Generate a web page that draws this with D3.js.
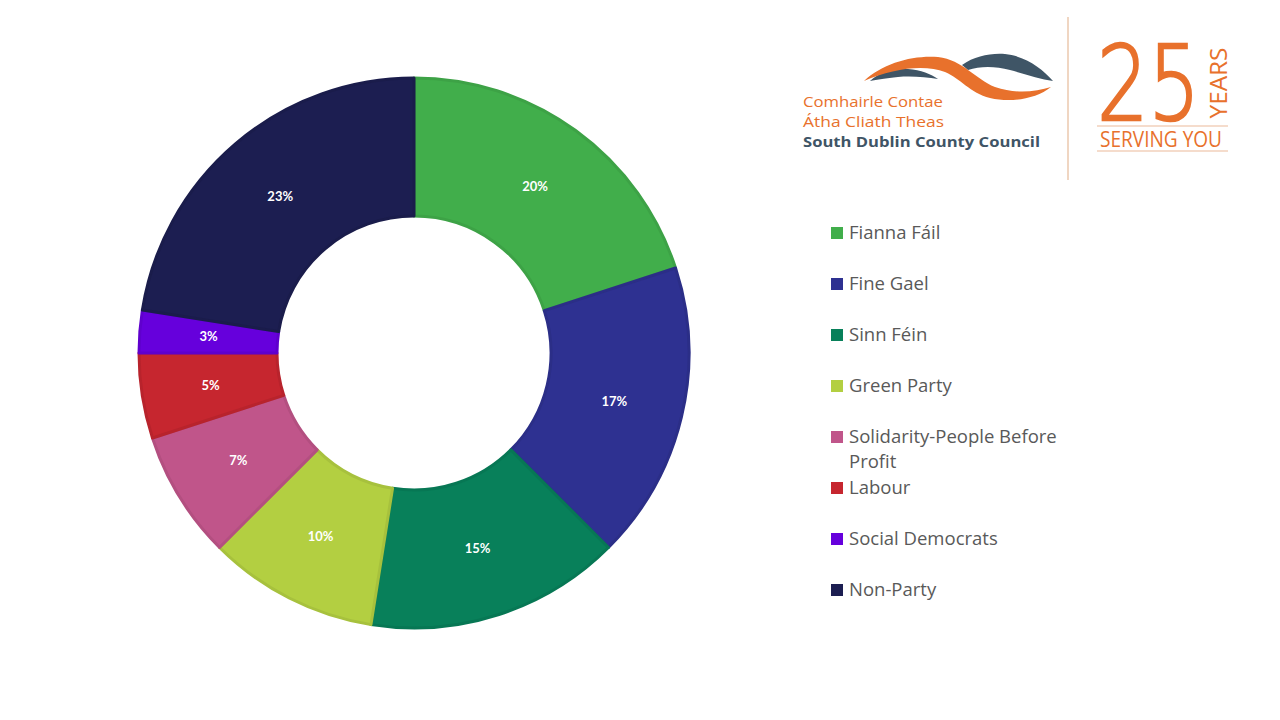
<!DOCTYPE html>
<html>
<head>
<meta charset="utf-8">
<script src="https://cdn.jsdelivr.net/npm/d3@7"></script>
<style>
  body { margin: 0; background: #fff; }
  svg { display: block; }
</style>
</head>
<body>
<svg id="canvas"></svg>
<script>
let parties = ['Fianna Fáil', 'Fine Gael', 'Sinn Féin', 'Green Party',
    'Solidarity-People Before Profit', 'Labour', 'Social Democrats', 'Non-Party'];
let seats = [8, 7, 6, 4, 3, 2, 1, 9];
let pctLabels = ['20%', '17%', '15%', '10%', '7%', '5%', '3%', '23%'];
let colors = ['#41AE4B', '#2E3191', '#08805A', '#B3CF41', '#C0558A', '#C6262F', '#6600DC', '#1C1E51'];

let width = 1280;
let height = 720;
let cx = 414, cy = 353;
let outerR = 275, innerR = 137;

let canvas = d3.select('#canvas')
    .attr('width', width)
    .attr('height', height);

let pie = d3.pie().sort(null).value(d => d);
let arc = d3.arc().innerRadius(innerR).outerRadius(outerR);
let arcs = pie(seats);

let donut = canvas.append('g').attr('transform', `translate(${cx}, ${cy})`);

donut.selectAll('path')
    .data(arcs)
    .enter()
    .append('path')
    .attr('d', arc)
    .attr('fill', (d, i) => colors[i])
    .attr('stroke', (d, i) => d3.color(colors[i]).darker(0.2))
    .attr('stroke-width', 3)
    .attr('stroke-linejoin', 'round');

donut.selectAll('text')
    .data(arcs)
    .enter()
    .append('text')
    .attr('x', d => arc.centroid(d)[0])
    .attr('y', d => arc.centroid(d)[1])
    .attr('dy', '0.35em')
    .attr('text-anchor', 'middle')
    .attr('fill', '#fff')
    .style('font-family', 'Lato, "Open Sans", sans-serif')
    .style('font-weight', 'bold')
    .style('font-size', '13px')
    .text((d, i) => pctLabels[i]);

// legend
let legendY = [233, 284, 335, 386, 437, 488, 539, 590];
let legend = canvas.append('g');
parties.forEach((name, i) => {
    let row = legend.append('g').attr('transform', `translate(831, ${legendY[i]})`);
    row.append('rect')
        .attr('x', 0).attr('y', -6)
        .attr('width', 12).attr('height', 12)
        .attr('fill', colors[i]);
    let t = row.append('text')
        .attr('fill', '#595959')
        .style('font-family', '"Open Sans", "Noto Sans", sans-serif')
        .style('font-size', '18.5px');
    if (name.length > 25) {
        t.append('tspan').attr('x', 18).attr('y', 0).attr('dy', '0.35em').text('Solidarity-People Before');
        t.append('tspan').attr('x', 18).attr('y', 25).attr('dy', '0.35em').text('Profit');
    } else {
        t.attr('x', 18).attr('y', 0).attr('dy', '0.35em').text(name);
    }
});

// logo
let orange = '#E8712C';
let slate = '#3F5566';
let logo = canvas.append('g');

logo.append('path')
    .attr('d', 'M870,81 C880,72 895,68 908,69 C921,70 931,74 938,79 C926,77 911,76 898,77 C886,78 877,80 870,81 Z')
    .attr('fill', slate);
logo.append('path')
    .attr('d', 'M962,65 C975,56 990,53 1005,54 C1025,56 1042,68 1053,81 C1040,79 1025,74 1010,70 C995,66 980,66 968,70 Z')
    .attr('fill', slate);
logo.append('path')
    .attr('d', 'M864,81 C883,63 913,55 938,57 C963,60 975,79 995,87 C1015,94 1035,92 1051,87 C1036,99 1011,103 990,98 C970,93 960,78 945,72 C925,64 893,68 864,81 Z')
    .attr('fill', orange);

let logoText = [
    { t: 'Comhairle Contae', y: 107, c: orange, w: 'normal', len: 140 },
    { t: 'Átha Cliath Theas', y: 127, c: orange, w: 'normal', len: 141 },
    { t: 'South Dublin County Council', y: 147, c: slate, w: 'bold', len: 237 }
];
logo.selectAll('text.lt')
    .data(logoText)
    .enter()
    .append('text')
    .attr('class', 'lt')
    .attr('x', 803)
    .attr('y', d => d.y)
    .attr('fill', d => d.c)
    .attr('textLength', d => d.len)
    .attr('lengthAdjust', 'spacingAndGlyphs')
    .style('font-family', '"Open Sans", sans-serif')
    .style('font-size', '14.5px')
    .style('font-weight', d => d.w)
    .text(d => d.t);

logo.append('line')
    .attr('x1', 1068).attr('x2', 1068).attr('y1', 17).attr('y2', 180)
    .attr('stroke', '#EBC9AE').attr('stroke-width', 1.5);

logo.append('text')
    .attr('x', 1097).attr('y', 120)
    .attr('fill', orange)
    .attr('stroke', orange)
    .attr('stroke-width', 2.5)
    .style('font-family', '"DejaVu Sans", sans-serif')
    .style('font-weight', '200')
    .style('font-size', '103px')
    .attr('textLength', 103)
    .attr('lengthAdjust', 'spacingAndGlyphs')
    .text('25');
logo.append('text')
    .attr('transform', 'translate(1227, 83) rotate(-90)')
    .attr('text-anchor', 'middle')
    .attr('fill', orange)
    .style('font-family', '"Open Sans", sans-serif')
    .style('font-size', '23px')
    .attr('textLength', 71)
    .attr('lengthAdjust', 'spacingAndGlyphs')
    .text('YEARS');
logo.append('line')
    .attr('x1', 1097).attr('x2', 1228).attr('y1', 126).attr('y2', 126)
    .attr('stroke', '#EBB99A').attr('stroke-width', 1.2);
logo.append('text')
    .attr('x', 1100).attr('y', 147)
    .attr('fill', orange)
    .style('font-family', '"Open Sans", sans-serif')
    .style('font-size', '22px')
    .attr('textLength', 122)
    .attr('lengthAdjust', 'spacingAndGlyphs')
    .text('SERVING YOU');
logo.append('line')
    .attr('x1', 1097).attr('x2', 1228).attr('y1', 151).attr('y2', 151)
    .attr('stroke', '#EBB99A').attr('stroke-width', 1.2);
</script>
</body>
</html>
